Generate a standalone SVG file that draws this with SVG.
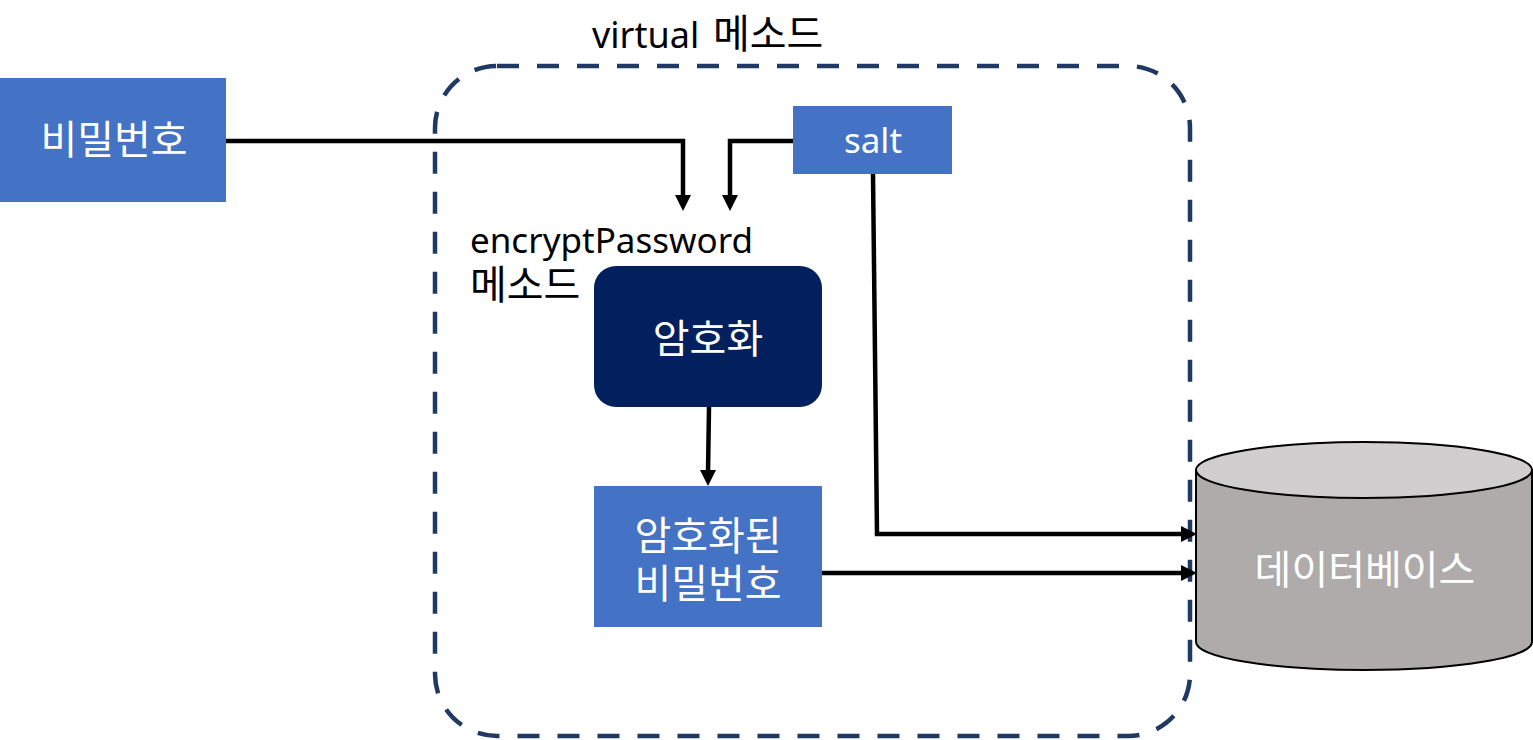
<svg xmlns="http://www.w3.org/2000/svg" width="1533" height="740" viewBox="0 0 1533 740">
<defs>
<style>
.t{font-family:"Noto Sans","Noto Sans CJK KR",sans-serif;font-size:35px;}
.ko{font-family:"Noto Sans CJK KR","Noto Sans",sans-serif;font-size:40px;}
.w{fill:#fff;}
.k{fill:#000;}
.c{stroke:#000;stroke-width:4.5;fill:none;}
.h{fill:#000;}
.blue{fill:#4472C4;}
</style>
</defs>
<rect width="1533" height="740" fill="#fff"/>
<g id="frame">
<rect x="435" y="66" width="755" height="670" rx="62" fill="none" stroke="#203864" stroke-width="4.5" stroke-dasharray="22,18"/>
<text class="t k" x="592" y="48"><tspan font-size="36">virtual</tspan><tspan class="ko" x="713">메소드</tspan></text>
</g>
<g id="password">
<rect class="blue" x="0" y="78" width="226" height="124"/>
<text class="ko w" x="114" y="154" text-anchor="middle">비밀번호</text>
</g>
<g id="salt">
<rect class="blue" x="793" y="106" width="159" height="68"/>
<text class="t w" x="873" y="153" text-anchor="middle" font-size="33">salt</text>
</g>
<g id="encryptLabel">
<text class="t k" x="470" y="253">encryptPassword</text>
<text class="ko k" x="470" y="299" font-size="39">메소드</text>
</g>
<g id="encrypt">
<rect x="594" y="266" width="228" height="141" rx="22" fill="#03205E"/>
<text class="ko w" x="708" y="353" text-anchor="middle">암호화</text>
</g>
<g id="encrypted">
<rect class="blue" x="594" y="486" width="228" height="141"/>
<text class="ko w" x="708" y="550" text-anchor="middle" font-size="39">암호화된</text>
<text class="ko w" x="708" y="598" text-anchor="middle" font-size="39">비밀번호</text>
</g>
<g id="database">
<path d="M1196,470 L1196,642 A168,28 0 0 0 1532,642 L1532,470 Z" fill="#AEABAA" stroke="#000" stroke-width="2"/>
<ellipse cx="1364" cy="470" rx="168" ry="28" fill="#D0CECE" stroke="#000" stroke-width="2"/>
<text class="ko w" x="1365" y="584" text-anchor="middle">데이터베이스</text>
</g>
<g id="connectors">
<polyline class="c" points="226,141 683,141 683,198"/>
<polygon class="h" points="675,195 691,195 683,211"/>
<polyline class="c" points="793,141 730,141 730,198"/>
<polygon class="h" points="722,195 738,195 730,211"/>
<line class="c" x1="709" y1="407" x2="708" y2="473"/>
<polygon class="h" points="700,470 716,470 708,486"/>
<polyline class="c" points="873,174 877,534 1184,534"/>
<polygon class="h" points="1181,526 1181,542 1197,534"/>
<line class="c" x1="822" y1="573" x2="1184" y2="573"/>
<polygon class="h" points="1181,565 1181,581 1197,573"/>
</g>
</svg>
